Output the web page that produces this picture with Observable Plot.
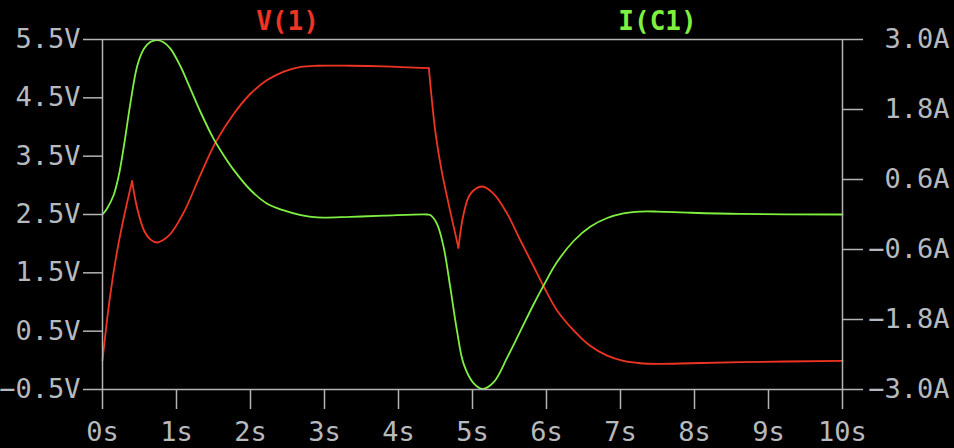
<!DOCTYPE html>
<html>
<head>
<meta charset="utf-8">
<script src="https://cdn.jsdelivr.net/npm/d3@7"></script>
<script src="https://cdn.jsdelivr.net/npm/@observablehq/plot@0.6"></script>
<style>
  html, body { margin: 0; padding: 0; background: #000; }
  #chart { width: 954px; height: 448px; }
</style>
</head>
<body>
<div id="chart"></div>
<script>
// ---- data ----
const seriesNames = ["V(1)", "I(C1)"];
const xTicks = [0, 1, 2, 3, 4, 5, 6, 7, 8, 9, 10];
const vTicks = [-0.5, 0.5, 1.5, 2.5, 3.5, 4.5, 5.5];
const aTicks = [-3.0, -1.8, -0.6, 0.6, 1.8, 3.0];
const vDomain = [-0.5, 5.5];
const aDomain = [-3.0, 3.0];

// V(1): time (s) and volts
const vTime = [0, 0.1, 0.2, 0.3, 0.4,
  0.47, 0.56, 0.65, 0.74, 0.83, 0.92, 1.1, 1.32, 1.53, 1.77, 2.0, 2.22, 2.45, 2.68, 2.9, 3.35, 3.8, 4.41,
  4.5, 4.58, 4.7, 4.81,
  4.88, 4.97, 5.13, 5.29, 5.47, 5.65, 5.83, 5.96, 6.14, 6.37, 6.59, 6.82, 7.04, 7.27, 7.5, 7.95, 8.62, 10];
const vValues = [0, 1.08, 1.89, 2.52, 3.07,
  2.60, 2.23, 2.07, 2.02, 2.07, 2.17, 2.54, 3.17, 3.74, 4.22, 4.57, 4.80, 4.95, 5.03, 5.05, 5.05, 5.04, 5.01,
  3.90, 3.27, 2.55, 1.93,
  2.51, 2.85, 2.98, 2.85, 2.51, 2.05, 1.60, 1.27, 0.86, 0.51, 0.25, 0.08, -0.01, -0.05, -0.06, -0.05, -0.03, -0.01];
const vCorners = [0.4, 4.41, 4.81];

// I(C1): time (s) and amps
const iTime = [0, 0.06, 0.15, 0.22, 0.29, 0.38, 0.47, 0.56, 0.65, 0.74, 0.83, 0.92, 1.05, 1.19, 1.32, 1.5, 1.64,
  1.77, 2.0, 2.22, 2.45, 2.68, 2.9, 3.35, 3.8, 4.39, 4.43, 4.52, 4.61, 4.7, 4.79, 4.88, 5.02, 5.14, 5.29,
  5.47, 5.65, 5.83, 5.96, 6.14, 6.37, 6.59, 6.82, 7.04, 7.27, 7.5, 7.95, 8.62, 10];
const iValues = [0, 0.10, 0.33, 0.67, 1.18, 1.93, 2.55, 2.84, 2.96, 2.99, 2.95, 2.84, 2.55, 2.15, 1.77, 1.30, 1.01,
  0.77, 0.42, 0.19, 0.07, -0.01, -0.05, -0.04, -0.02, 0.0, -0.01, -0.16, -0.56, -1.25, -1.99, -2.56, -2.90, -2.99, -2.87,
  -2.45, -1.99, -1.53, -1.22, -0.82, -0.45, -0.21, -0.06, 0.02, 0.05, 0.05, 0.03, 0.01, 0.0];

// ---- build tables ----
const redRows = [];
let seg = 0;
vTime.forEach((t, i) => {
  redRows.push({t, v: vValues[i], seg});
  if (vCorners.includes(t)) { seg++; redRows.push({t, v: vValues[i], seg}); }
});
const greenRows = iTime.map((t, i) => ({t, a: iValues[i]}));

// map amps onto the volts scale (right axis shares the frame)
const aToV = a => vDomain[0] + (a - aDomain[0]) * (vDomain[1] - vDomain[0]) / (aDomain[1] - aDomain[0]);
const fmt = (d, unit) => (d < 0 ? "\u2212" : "") + Math.abs(d).toFixed(1) + unit;

const RED = "#ee3422";
const GREEN = "#80f040";
const AXIS = "#b4b4b4";
const LABEL = "#b6babe";

const plot = Plot.plot({
  width: 954,
  height: 448,
  marginLeft: 102,
  marginRight: 112,
  marginTop: 39,
  marginBottom: 59,
  style: {background: "#000", color: LABEL, fontFamily: "'DejaVu Sans Mono', monospace", fontSize: "27px"},
  x: {domain: [0, 10], label: null},
  y: {domain: vDomain, label: null},
  marks: [
    Plot.line(redRows, {x: "t", y: "v", z: "seg", stroke: RED, strokeWidth: 1.8, curve: "catmull-rom"}),
    Plot.line(greenRows, {x: "t", y: d => aToV(d.a), stroke: GREEN, strokeWidth: 1.8, curve: "catmull-rom"}),
    Plot.frame({stroke: AXIS, strokeWidth: 1.5}),
    Plot.axisX(xTicks, {tickSize: 20, tickPadding: 12, tickFormat: d => d + "s", stroke: AXIS, fill: LABEL, strokeWidth: 1.5, label: null}),
    Plot.axisY(vTicks, {anchor: "left", tickSize: 19, tickPadding: 3, tickFormat: d => fmt(d, "V"), stroke: AXIS, fill: LABEL, strokeWidth: 1.5, label: null}),
    Plot.axisY(aTicks, {anchor: "right", y: d => aToV(d), tickSize: 20, tickPadding: 87, textAnchor: "end", tickFormat: d => fmt(d, "A"), stroke: AXIS, fill: LABEL, strokeWidth: 1.5, label: null}),
    Plot.text([seriesNames[0]], {x: 2.5, frameAnchor: "top", dy: -18, lineAnchor: "middle", text: d => d, fill: RED, fontWeight: "bold", fontSize: 26}),
    Plot.text([seriesNames[1]], {x: 7.5, frameAnchor: "top", dy: -18, lineAnchor: "middle", text: d => d, fill: GREEN, fontWeight: "bold", fontSize: 26})
  ]
});
document.getElementById("chart").appendChild(plot);
</script>
</body>
</html>
